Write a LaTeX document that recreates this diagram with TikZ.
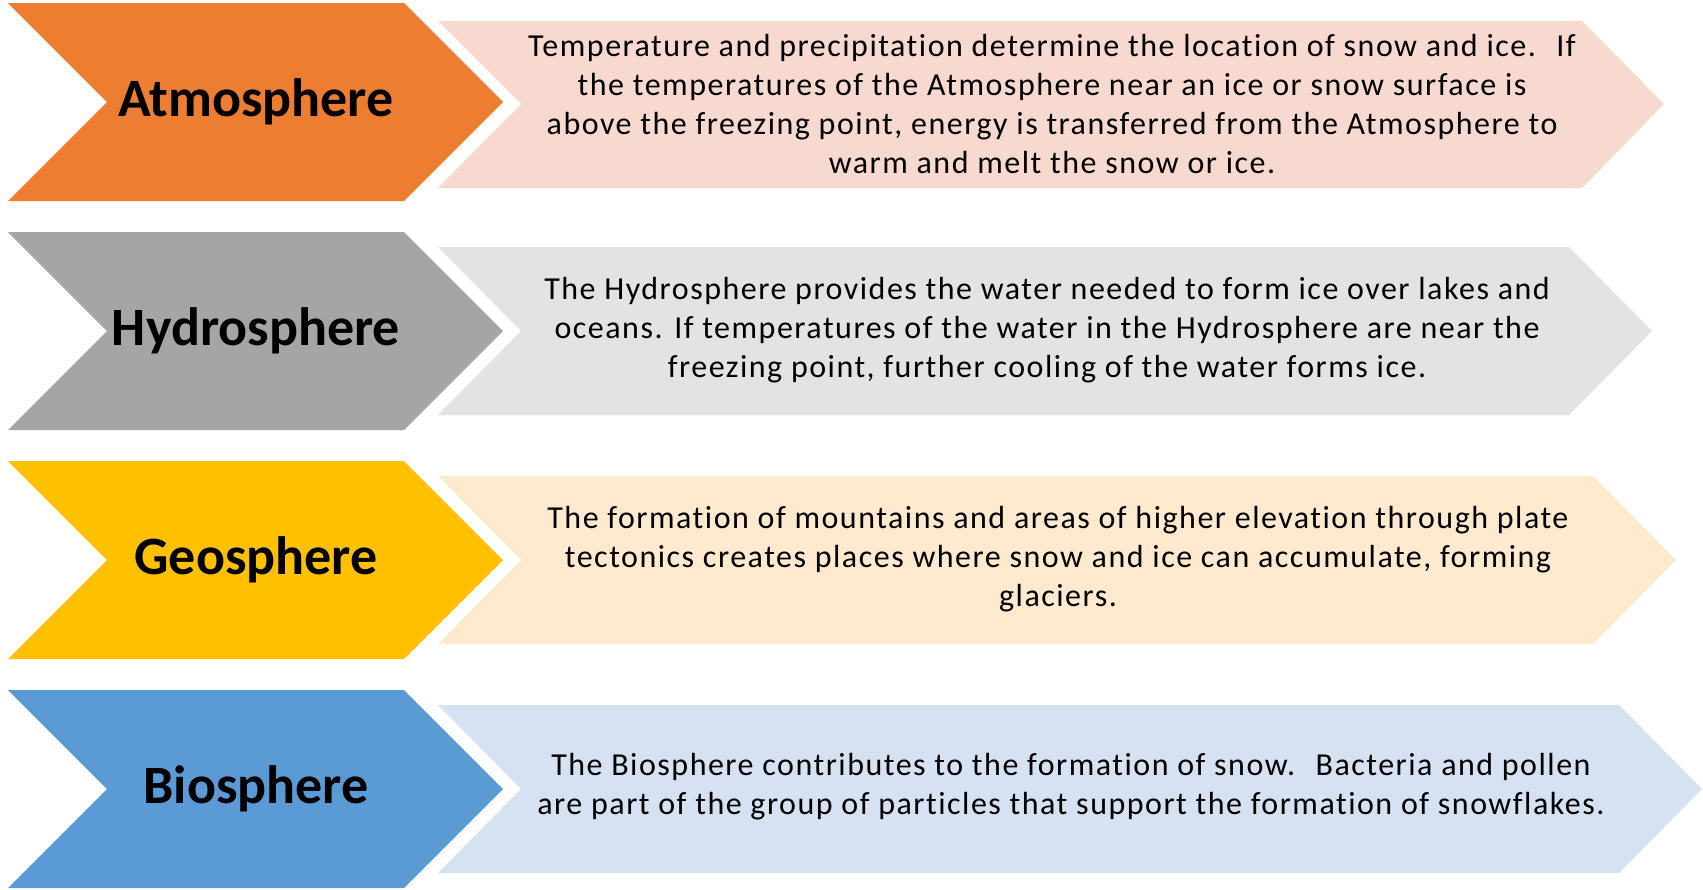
\documentclass[tikz,border=0pt]{standalone}
\usepackage{fontspec}
\setmainfont{Carlito}
\newfontfamily\infofont{Carlito}[LetterSpace=4.7, Ligatures=NoCommon]

\definecolor{atmo}{HTML}{ED7D31}
\definecolor{atmolight}{HTML}{F8D9D0}
\definecolor{hydro}{HTML}{A5A5A5}
\definecolor{hydrolight}{HTML}{E3E3E3}
\definecolor{geo}{HTML}{FFC000}
\definecolor{geolight}{HTML}{FFE9CF}
\definecolor{bio}{HTML}{5B9BD5}
\definecolor{biolight}{HTML}{D6E1F1}

\begin{document}
\begin{tikzpicture}[
  x=0.5pt, y=-0.5pt,
  sphere/.style={font=\fontsize{27}{32}\selectfont\bfseries, text=black},
  info/.style={font=\infofont\fontsize{16}{19.5}\selectfont, align=center, text=black}
]
  \useasboundingbox (0,0) rectangle (1703,889);

  % chevrons
  \fill[atmo]  (8,3)   -- (404,3)   -- (503,102) -- (404,201) -- (8,201) -- (107,102) -- cycle;
  \fill[hydro] (8,232) -- (404,232) -- (503,331) -- (404,430) -- (8,430) -- (107,331) -- cycle;
  \fill[geo]   (8,461) -- (404,461) -- (503,560) -- (404,659) -- (8,659) -- (107,560) -- cycle;
  \fill[bio]   (8,690) -- (404,690) -- (503,789) -- (404,888) -- (8,888) -- (107,789) -- cycle;

  % text boxes
  \fill[atmolight]  (438,21)  -- (1582,21)  -- (1664,104) -- (1582,188) -- (438,188) -- (521,104) -- cycle;
  \fill[hydrolight] (438,247) -- (1569,247) -- (1652,331) -- (1569,415) -- (438,415) -- (521,331) -- cycle;
  \fill[geolight]   (438,476) -- (1593,476) -- (1676,560) -- (1593,644) -- (438,644) -- (521,560) -- cycle;
  \fill[biolight]   (438,705) -- (1619,705) -- (1702,789) -- (1619,873) -- (438,873) -- (521,789) -- cycle;

  \node[sphere] (atm) at (256,102) {Atmosphere};
  \node[sphere] (hyd) at (256,331) {Hydrosphere};
  \node[sphere] (geo) at (256,560) {Geosphere};
  \node[sphere] (bio) at (256,789) {Biosphere};

  \node[info] (tatm) at (1052,104) {Temperature and precipitation determine the location of snow and ice.~ If\\
    the temperatures of the Atmosphere near an ice or snow surface is\\
    above the freezing point, energy is transferred from the Atmosphere to\\
    warm and melt the snow or ice.};
  \node[info] (thyd) at (1047,330) {The Hydrosphere provides the water needed to form ice over lakes and\\
    oceans. If temperatures of the water in the Hydrosphere are near the\\
    freezing point, further cooling of the water forms ice.};
  \node[info] (tgeo) at (1058,559) {The formation of mountains and areas of higher elevation through plate\\
    tectonics creates places where snow and ice can accumulate, forming\\
    glaciers.};
  \node[info] (tbio) at (1071,787) {The Biosphere contributes to the formation of snow.~ Bacteria and pollen\\
    are part of the group of particles that support the formation of snowflakes.};
\end{tikzpicture}
\end{document}
